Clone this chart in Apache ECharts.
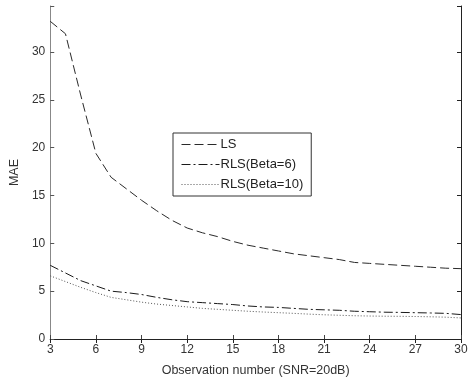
<!DOCTYPE html>
<html>
<head>
<meta charset="utf-8">
<script src="https://cdn.jsdelivr.net/npm/echarts@6/dist/echarts.min.js"></script>
<style>html,body{margin:0;padding:0;background:#fff;}#c{width:471px;height:382px;}</style>
</head>
<body>
<div id="c"></div>
<script>
const obsNumbers = [3,4,5,6,7,8,9,10,11,12,13,14,15,16,17,18,19,20,21,22,23,24,25,26,27,28,29,30];
const lsMAE = [33.2,31.9,25.5,19.4,16.9,15.7,14.5,13.4,12.4,11.6,11.1,10.7,10.2,9.8,9.5,9.2,8.9,8.7,8.5,8.3,8.0,7.9,7.8,7.7,7.6,7.5,7.4,7.35];
const rls6MAE = [7.7,6.9,6.1,5.55,5.0,4.85,4.65,4.35,4.1,3.9,3.8,3.7,3.6,3.45,3.35,3.3,3.2,3.1,3.05,3.0,2.9,2.85,2.8,2.78,2.75,2.72,2.68,2.55];
const rls10MAE = [6.6,6.0,5.4,4.85,4.35,4.1,3.85,3.65,3.5,3.35,3.2,3.1,3.0,2.9,2.82,2.75,2.68,2.6,2.53,2.48,2.43,2.4,2.38,2.37,2.35,2.32,2.28,2.2];
const seriesNames = ['LS','RLS(Beta=6)','RLS(Beta=10)'];
const xTicks = [3,6,9,12,15,18,21,24,27,30];
const yTicks = [0,5,10,15,20,25,30];

const pairs = ys => obsNumbers.map((x,i)=>[x, ys[i]]);
const font = 'Liberation Sans, Arial, sans-serif';
const chart = echarts.init(document.getElementById('c'), null, {renderer:'canvas'});
const xBase = {type:'value', min:3, max:30, interval:3, splitLine:{show:false}};
const yBase = {type:'value', min:0, max:34.8, interval:5, splitLine:{show:false}};
chart.setOption({
  animation:false,
  backgroundColor:'#fff',
  grid:{left:39, right:10, top:6, bottom:38, containLabel:false},
  legend:{
    orient:'vertical', left:173, top:133,
    data:seriesNames,
    padding:[5,8,5,8], itemGap:7, itemWidth:38, itemHeight:12,
    backgroundColor:'#fff', borderColor:'#333', borderWidth:1,
    itemStyle:{opacity:0},
    lineStyle:{width:1},
    textStyle:{fontFamily:font, fontSize:13, color:'#222', padding:[0,0,0,-4]}
  },
  xAxis:[
    Object.assign({}, xBase, {
      position:'bottom',
      name:'Observation number (SNR=20dB)', nameLocation:'middle', nameGap:25,
      nameTextStyle:{fontFamily:font, fontSize:12.5, color:'#333'},
      axisLine:{lineStyle:{color:'#444', width:1}},
      axisTick:{inside:true, length:4, lineStyle:{color:'#444'}},
      axisLabel:{fontFamily:font, fontSize:12, color:'#333', margin:5,
        formatter: v => xTicks.includes(v) ? String(v) : ''}
    }),
    Object.assign({}, xBase, {
      position:'top',
      axisLine:{lineStyle:{color:'#222', width:1}},
      axisTick:{inside:true, length:4, lineStyle:{color:'#222'}},
      axisLabel:{show:false}
    })
  ],
  yAxis:[
    Object.assign({}, yBase, {
      position:'left',
      name:'MAE', nameLocation:'middle', nameGap:28,
      nameTextStyle:{fontFamily:font, fontSize:12.5, color:'#333'},
      axisLine:{lineStyle:{color:'#888', width:1}},
      axisTick:{inside:true, length:4, lineStyle:{color:'#555'}},
      axisLabel:{fontFamily:font, fontSize:12, color:'#333', margin:5,
        formatter: v => yTicks.includes(v) ? String(v) : ''}
    }),
    Object.assign({}, yBase, {
      position:'right',
      axisLine:{lineStyle:{color:'#222', width:1}},
      axisTick:{inside:true, length:4, lineStyle:{color:'#222'}},
      axisLabel:{show:false}
    })
  ],
  series:[
    {name:seriesNames[0], type:'line', data:pairs(lsMAE), symbol:'none', xAxisIndex:0, yAxisIndex:0,
     lineStyle:{color:'#2a2a2a', width:1, type:[9,4]}, itemStyle:{color:'#2a2a2a'}},
    {name:seriesNames[1], type:'line', data:pairs(rls6MAE), symbol:'none', xAxisIndex:0, yAxisIndex:0,
     lineStyle:{color:'#1a1a1a', width:1, type:[9,3,2,3]}, itemStyle:{color:'#1a1a1a'}},
    {name:seriesNames[2], type:'line', data:pairs(rls10MAE), symbol:'none', xAxisIndex:0, yAxisIndex:0,
     lineStyle:{color:'#555', width:1, type:[1,2]}, itemStyle:{color:'#555'}}
  ]
});
</script>
</body>
</html>
